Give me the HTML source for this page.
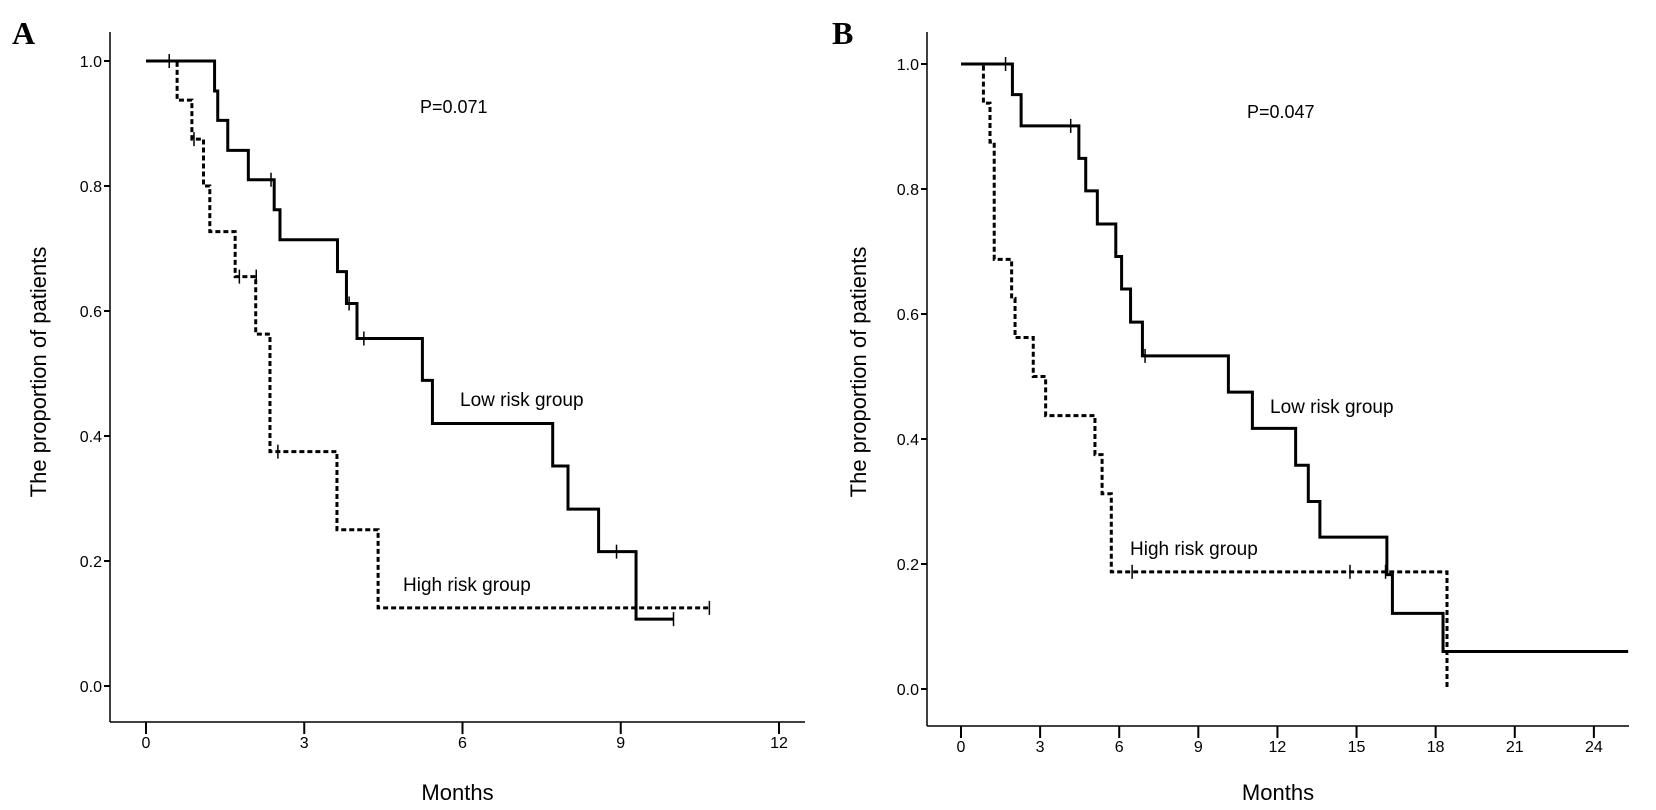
<!DOCTYPE html>
<html><head><meta charset="utf-8"><style>
body{margin:0;background:#fff;}
svg{display:block;font-family:"Liberation Sans",sans-serif;}
</style></head><body>
<svg id="c" width="1656" height="810"></svg>
<script>
// Panel A data
const aLowT=[0,1.30,1.36,1.55,1.94,2.43,2.54,3.63,3.80,4.00,5.24,5.43,7.71,8.00,8.58,9.29,10.0];
const aLowS=[1.0,0.952,0.905,0.857,0.810,0.762,0.714,0.663,0.612,0.556,0.489,0.42,0.352,0.283,0.215,0.107,0.107];
const aLowCens=[[0.44,1.0],[2.37,0.810],[3.85,0.612],[4.13,0.556],[8.92,0.215],[10.0,0.107]];
const aHighT=[0,0.59,0.87,1.09,1.21,1.69,2.08,2.35,3.62,4.40,10.68];
const aHighS=[1.0,0.9375,0.875,0.80,0.727,0.655,0.563,0.375,0.25,0.125,0.125];
const aHighCens=[[0.91,0.875],[1.77,0.655],[2.09,0.655],[2.5,0.375],[10.68,0.125]];
const aXTicks=[0,3,6,9,12];
const yTicks=[0.0,0.2,0.4,0.6,0.8,1.0];
// Panel B data
const bLowT=[0,1.95,2.28,4.47,4.73,5.17,5.87,6.09,6.43,6.88,10.14,11.05,12.69,13.17,13.61,16.15,16.36,18.28,25.3];
const bLowS=[1.0,0.951,0.901,0.849,0.797,0.744,0.692,0.64,0.587,0.533,0.475,0.417,0.358,0.30,0.243,0.183,0.121,0.06,0.06];
const bLowCens=[[1.69,1.0],[4.16,0.901],[6.98,0.533]];
const bHighT=[0,0.85,1.10,1.26,1.92,2.05,2.74,3.21,5.08,5.35,5.70,18.43];
const bHighS=[1.0,0.9375,0.875,0.6875,0.625,0.5625,0.5,0.4375,0.375,0.3125,0.1875,0.0];
const bHighCens=[[6.49,0.1875],[14.75,0.1875],[16.1,0.1875]];
const bXTicks=[0,3,6,9,12,15,18,21,24];

const NS="http://www.w3.org/2000/svg";
const svg=document.getElementById('c');
function el(tag,attrs,parent){const e=document.createElementNS(NS,tag);for(const k in attrs)e.setAttribute(k,attrs[k]);(parent||svg).appendChild(e);return e;}

function panel(p){
  const g=el('g',{});
  
  
  const X=m=>p.x0+m*p.px;
  const Y=s=>p.y0-s*625;
  let a=el('line',{x1:p.ax,y1:32,x2:p.ax,y2:p.axY,stroke:'#000','stroke-width':1.5},g);
  
  a=el('line',{x1:p.ax,y1:p.axY,x2:p.axEnd,y2:p.axY,stroke:'#000','stroke-width':1.5},g);
  
  yTicks.forEach(v=>{
    const t=el('line',{x1:p.ax-6,y1:Y(v),x2:p.ax,y2:Y(v),stroke:'#000','stroke-width':2},g);
    
    const l=el('text',{x:p.ax-8,y:Y(v)+6,'text-anchor':'end','font-size':16},g);
    l.textContent=v.toFixed(1);
    
  });
  p.xt.forEach(v=>{
    const t=el('line',{x1:X(v),y1:p.axY,x2:X(v),y2:p.axY+12,stroke:'#000','stroke-width':2},g);
    
    const l=el('text',{x:X(v),y:p.axY+26,'text-anchor':'middle','font-size':16},g);
    l.textContent=v;
    
  });
  const step=(T,S,dash,nm)=>{
    let d='M'+X(T[0])+' '+Y(S[0]);
    for(let i=1;i<T.length;i++){d+=' H'+X(T[i])+' V'+Y(S[i]);}
    const path=el('path',{d:d,fill:'none',stroke:'#000','stroke-width':3,'stroke-dasharray':dash?'5,3':'none'},g);
    
  };
  step(p.lt,p.ls,false,'low-risk-curve');
  step(p.ht,p.hs,true,'high-risk-curve');
  p.cens.forEach(c=>{
    const m=el('line',{x1:X(c[0]),y1:Y(c[1])-7,x2:X(c[0]),y2:Y(c[1])+7,stroke:'#000','stroke-width':1.5},g);
    
  });
  const yl=el('text',{x:p.ylx,y:372,'text-anchor':'middle','font-size':22,transform:'rotate(-90 '+p.ylx+' 372)'},g);
  yl.textContent='The proportion of patients';
  
  const xl=el('text',{x:(p.ax+p.axEnd)/2,y:800,'text-anchor':'middle','font-size':22},g);
  xl.textContent='Months';
  
  const L=el('text',{x:p.lx,y:44,'font-size':32,'font-weight':'bold','font-family':'Liberation Serif,serif'},g);
  L.textContent=p.letter;
  
  const P=el('text',{x:p.pv[0],y:p.pv[1],'font-size':18},g);
  P.textContent=p.pText;
  
  const lo=el('text',{x:p.lo[0],y:p.lo[1],'font-size':19},g);
  lo.textContent='Low risk group';
  
  const hi=el('text',{x:p.hi[0],y:p.hi[1],'font-size':19},g);
  hi.textContent='High risk group';
  
}
panel({name:'panel-a',x0:146,px:52.75,y0:686,ax:110,axY:722,axEnd:805,xt:aXTicks,
  lt:aLowT,ls:aLowS,ht:aHighT,hs:aHighS,cens:aLowCens.concat(aHighCens),ylx:46,lx:12,letter:'A',
  pText:'P=0.071',pv:[420,113],lo:[460,406],hi:[403,591]});
panel({name:'panel-b',x0:961,px:26.37,y0:689,ax:927,axY:726,axEnd:1629,xt:bXTicks,
  lt:bLowT,ls:bLowS,ht:bHighT,hs:bHighS,cens:bLowCens.concat(bHighCens),ylx:866,lx:832,letter:'B',
  pText:'P=0.047',pv:[1247,118],lo:[1270,413],hi:[1130,555]});
</script>
</body></html>
